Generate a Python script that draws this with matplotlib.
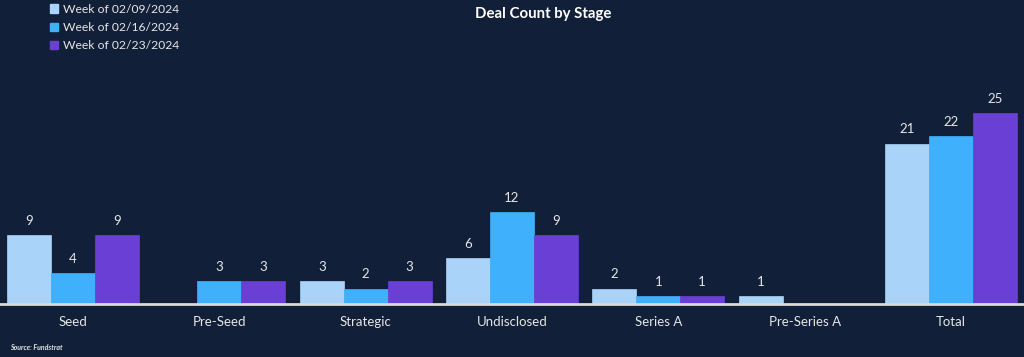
import numpy as np
import matplotlib
matplotlib.use("Agg")
import matplotlib.pyplot as plt
from matplotlib.patches import Patch

stages = ["Seed", "Pre-Seed", "Strategic", "Undisclosed", "Series A", "Pre-Series A", "Total"]
weeks = ["Week of 02/09/2024", "Week of 02/16/2024", "Week of 02/23/2024"]
wk_0209 = [9, 0, 3, 6, 2, 1, 21]
wk_0216 = [4, 3, 2, 12, 1, 0, 22]
wk_0223 = [9, 3, 3, 9, 1, 0, 25]

BG = "#121f38"
COLORS = ["#a9d3f8", "#3fb0fb", "#6a3fd6"]
TXT = "#e6e6e6"

plt.rcParams["font.family"] = ["Lato", "DejaVu Sans"]

fig = plt.figure(figsize=(10.24, 3.57), dpi=100, facecolor=BG)
ax = fig.add_axes([0.0, 53 / 357, 1.0, 304 / 357], facecolor=BG)

x = np.arange(len(stages))
w = 0.30
for i, vals in enumerate([wk_0209, wk_0216, wk_0223]):
    bars = ax.bar(x + (i - 1) * w, vals, w, color=COLORS[i], edgecolor=COLORS[i],
                  linewidth=0.5, zorder=2)
    labels = [str(v) if v else "" for v in vals]
    ax.bar_label(bars, labels=labels, padding=6, color=TXT, fontsize=9.5)

ax.set_xlim(-0.5, len(stages) - 0.5)
ax.set_ylim(0, 304 / 7.64)
ax.set_xticks(x)
ax.set_xticklabels(stages, color=TXT, fontsize=9.5)
ax.tick_params(axis="x", length=0, pad=9)
ax.set_yticks([])
for s in ["top", "right", "left"]:
    ax.spines[s].set_visible(False)
ax.spines["bottom"].set_color("#d9d9d9")
ax.spines["bottom"].set_linewidth(2)
ax.spines["bottom"].set_zorder(3)

fig.text(0.53, 0.96, "Deal Count by Stage", ha="center", va="center",
         color="white", fontsize=10.8, fontweight="bold")

handles = [Patch(facecolor=c, edgecolor=c) for c in COLORS]
leg = fig.legend(handles, weeks, loc="upper left", bbox_to_anchor=(0.038, 1.02),
                 frameon=False, fontsize=8.7, labelcolor=TXT, handlelength=0.7,
                 handleheight=0.7, handletextpad=0.4, labelspacing=0.6)

fig.text(0.01, 0.028, "Source: Fundstrat", color=TXT, fontsize=5,
         fontweight="bold", fontstyle="italic", va="center")

fig.savefig("out.png", dpi=100, facecolor=BG)
